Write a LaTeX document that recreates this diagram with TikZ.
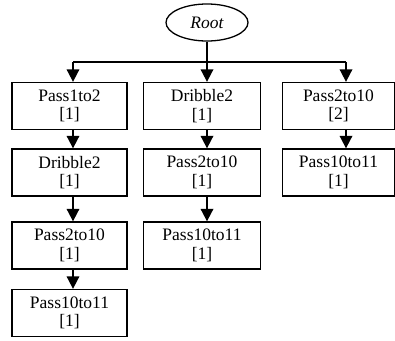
\documentclass[tikz,border=0pt]{standalone}
\usepackage{fontspec}
\setmainfont{Liberation Serif}
\usetikzlibrary{arrows.meta,shapes.geometric}

\begin{document}
\begin{tikzpicture}[x=1pt, y=-1pt, ->, >={Triangle[width=12.5pt,length=12.5pt]}, line width=1.8pt,
    main node/.style={rectangle, draw, line width=1.3pt, minimum width=115pt, minimum height=47pt, inner sep=0pt, align=center},
    root node/.style={ellipse, draw, line width=1.3pt, minimum width=82pt, minimum height=37pt, inner sep=0pt, font=\fontsize{17.5}{18.5}\selectfont\itshape}]
        \tikzstyle{every node}=[font=\fontsize{17.5}{18.5}\selectfont]
        \useasboundingbox (0,0) rectangle (395,340);

          \node[root node] (root) at (207,22.5) {Root};

          \coordinate (bus) at (0,62);
          \coordinate (xa) at (73,0);
          \coordinate (xb) at (207,0);
          \coordinate (xc) at (346,0);

          \node[main node] (a1) at (69.5,106) {Pass1to2\\{[1]}};
          \node[main node] (a2) at (69.5,172.5) {Dribble2\\{[1]}};
          \node[main node] (a3) at (69.5,245.5) {Pass2to10\\{[1]}};
          \node[main node] (a4) at (69.5,313) {Pass10to11\\{[1]}};

          \node[main node, minimum width=117pt] (b1) at (202,106) {Dribble2\\{[1]}};
          \node[main node, minimum width=117pt] (b2) at (202,172.5) {Pass2to10\\{[1]}};
          \node[main node, minimum width=117pt] (b3) at (202,245.5) {Pass10to11\\{[1]}};

          \node[main node, minimum width=112pt] (c1) at (338.5,106) {Pass2to10\\{[2]}};
          \node[main node, minimum width=112pt] (c2) at (338.5,172.5) {Pass10to11\\{[1]}};

          \draw[-] (root.south) -- (root.south |- bus);
          \draw[-] (xa |- bus) -- (xc |- bus);

          \path
            (xa |- bus) edge (a1.north -| xa)
            (xb |- bus) edge (b1.north -| xb)
            (xc |- bus) edge (c1.north -| xc)
            (a1.south -| xa) edge (a2.north -| xa)
            (a2.south -| xa) edge (a3.north -| xa)
            (a3.south -| xa) edge (a4.north -| xa)
            (b1.south -| xb) edge (b2.north -| xb)
            (b2.south -| xb) edge (b3.north -| xb)
            (c1.south -| xc) edge (c2.north -| xc);

        \end{tikzpicture}
\end{document}
